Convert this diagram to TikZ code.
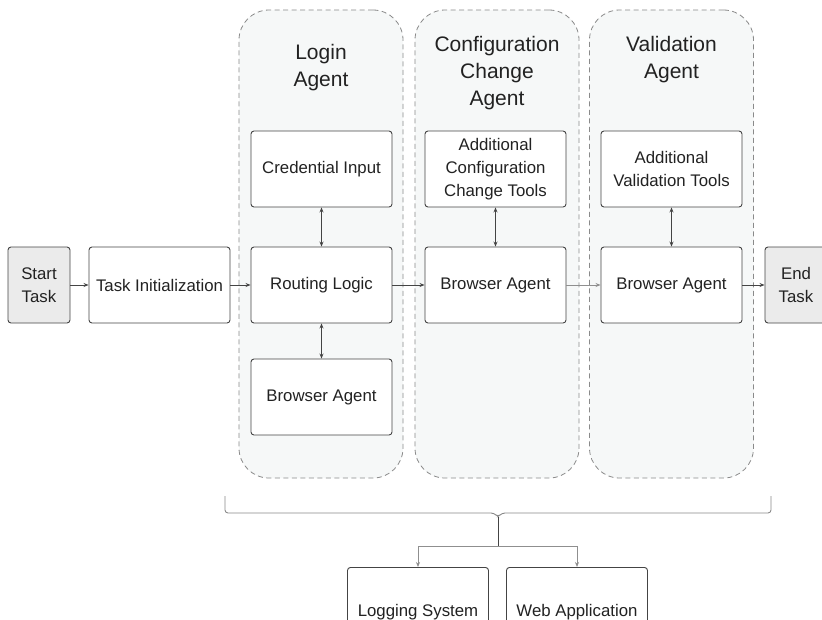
\documentclass[tikz,border=0pt]{standalone}
\usepackage{fontspec}
\setmainfont{Liberation Sans}
\usetikzlibrary{arrows.meta}
\definecolor{linec}{HTML}{444444}
\definecolor{txtc}{HTML}{222222}
\definecolor{groupfill}{HTML}{F6F8F8}
\definecolor{groupline}{HTML}{8A8A8A}
\definecolor{termfill}{HTML}{EBEBEB}
\begin{document}
\begin{tikzpicture}[x=1pt,y=-1pt,
  box/.style={draw=linec,line width=0.9pt,fill=white,rounded corners=3pt,
    minimum width=141pt,minimum height=76pt,inner sep=0pt,align=center,
    text=txtc,font=\fontsize{16.8}{23}\selectfont},
  term/.style={box,fill=termfill,minimum width=62pt},
  group/.style={draw=groupline,dashed,dash pattern=on 5pt off 3.5pt,line width=0.8pt,
    fill=groupfill,rounded corners=30pt,minimum width=164pt,minimum height=468pt,inner sep=0pt},
  gtitle/.style={text=txtc,font=\fontsize{21}{27}\selectfont,align=center,inner sep=0pt,anchor=north},
  arr/.style={-{Stealth[length=5pt,width=4pt]},draw=linec,line width=0.8pt},
  darr/.style={{Stealth[length=5pt,width=4pt]}-{Stealth[length=5pt,width=4pt]},draw=linec,line width=0.8pt},
  brace/.style={draw=groupline,line width=0.9pt,rounded corners=3pt},
  gline/.style={draw=linec!70,line width=0.9pt}
]
\clip (0,0) rectangle (822,619);
\fill[white] (0,0) rectangle (822,619);

% groups
\node[group] (g1) at (321,244) {};
\node[group] (g2) at (497,244) {};
\node[group] (g3) at (671.5,244) {};

\node[gtitle] (t1) at (321,44) {Login\\Agent};
\node[gtitle] (t2) at (497,36) {Configuration\\Change\\Agent};
\node[gtitle] (t3) at (671.5,36) {Validation\\Agent};

% main row
\node[term] (start) at (39,285) {Start\\Task};
\node[box] (init) at (159.5,285) {Task Initialization};
\node[box] (cred) at (321.5,169) {Credential Input};
\node[box] (route) at (321.5,285) {Routing Logic};
\node[box] (lbrow) at (321.5,397) {Browser Agent};
\node[box] (ctools) at (495.5,169) {Additional\\Configuration\\Change Tools};
\node[box] (cbrow) at (495.5,285) {Browser Agent};
\node[box] (vtools) at (671.5,169) {Additional\\Validation Tools};
\node[box] (vbrow) at (671.5,285) {Browser Agent};
\node[term] (endt) at (796,285) {End\\Task};

\draw[arr] (start) -- (init);
\draw[arr] (init) -- (route);
\draw[arr] (route) -- (cbrow);
\draw[arr,draw=linec!60] (cbrow) -- (vbrow);
\draw[arr] (vbrow) -- (endt);
\draw[darr] (cred) -- (route);
\draw[darr] (route) -- (lbrow);
\draw[darr] (ctools) -- (cbrow);
\draw[darr] (vtools) -- (vbrow);

% brace
\coordinate (bl) at (225,496);
\coordinate (br) at (771,496);
\coordinate (tip) at (498,517);
\draw[brace] (bl) -- (225,513) -- (494,513) -- (tip) -- (502,513) -- (771,513) -- (br);

% bottom boxes
\node[box,anchor=north] (log) at (418,567) {\raisebox{-26pt}{Logging System}};
\node[box,anchor=north] (web) at (577,567) {\raisebox{-26pt}{Web Application}};
\coordinate (split) at (498,546);
\draw[linec,line width=0.8pt] (tip) -- (split);
\draw[arr,draw=linec!60] (split) -| (log.north);
\draw[arr,draw=linec!60] (split) -| (web.north);
\end{tikzpicture}
\end{document}
